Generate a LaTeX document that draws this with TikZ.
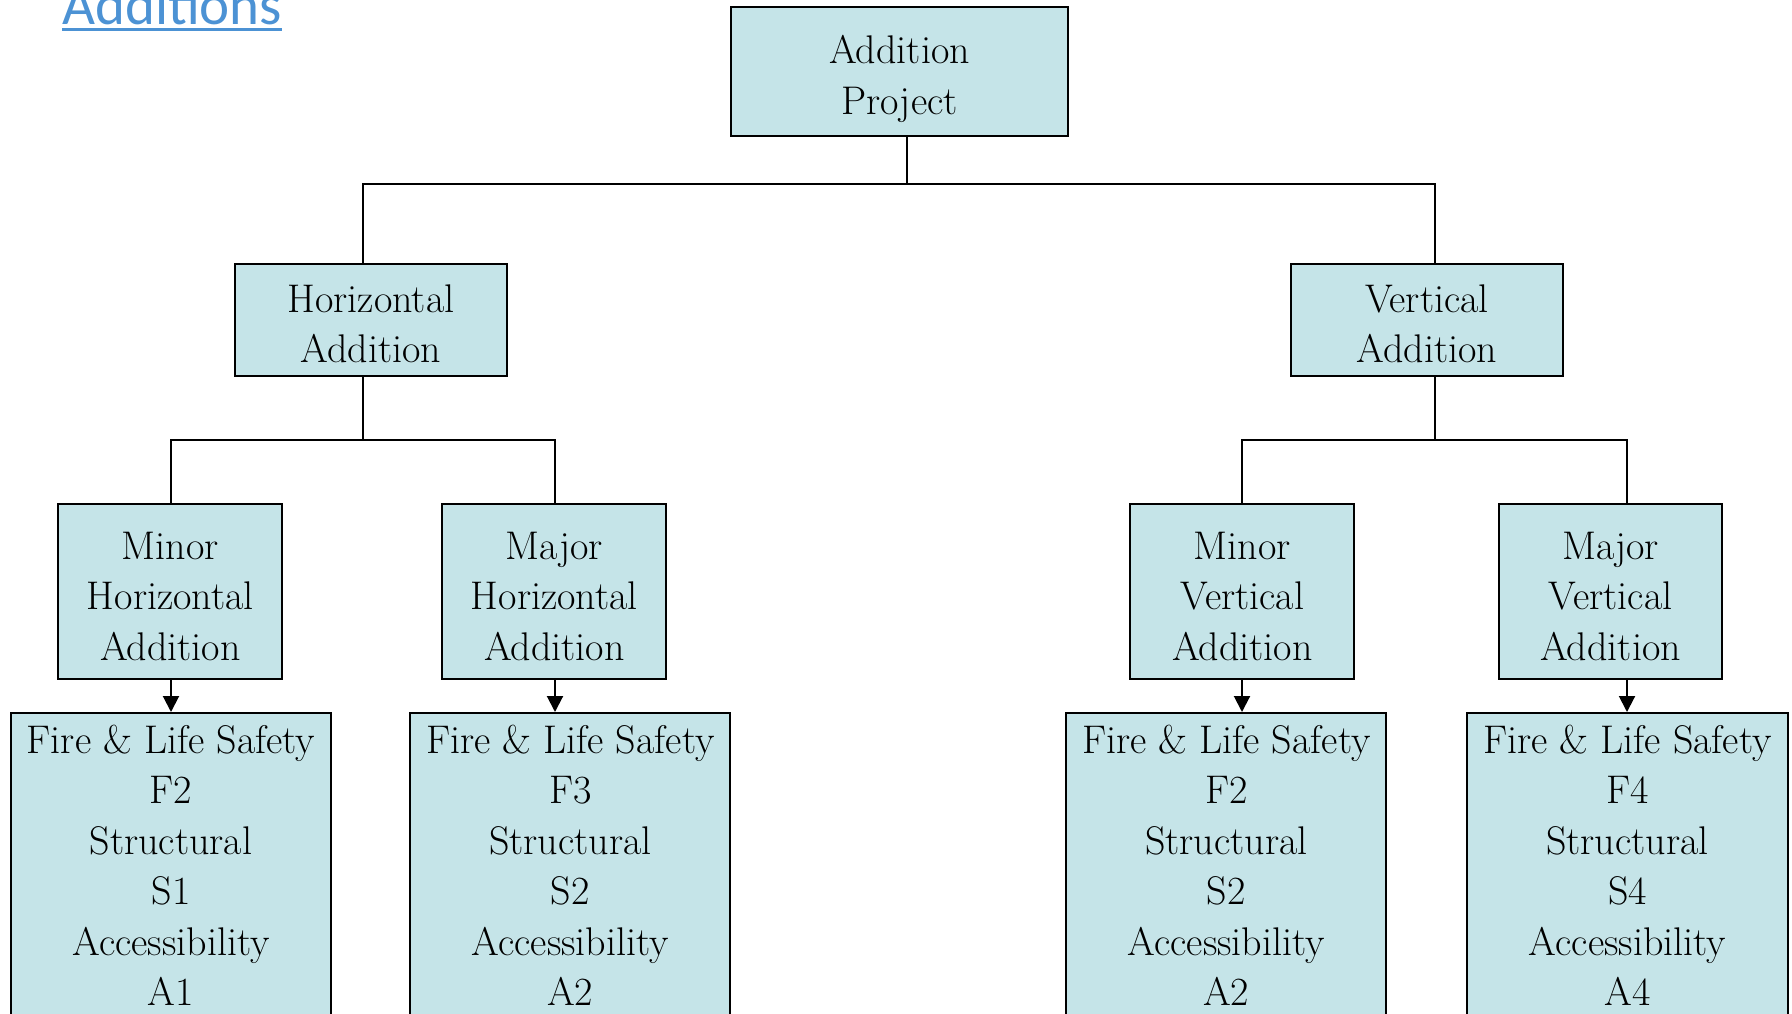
\documentclass[tikz,border=0pt]{standalone}
\usepackage{fontspec}
\usetikzlibrary{arrows.meta}
\newfontfamily\linkfont{Carlito}
\definecolor{boxfill}{RGB}{197,228,232}
\definecolor{linkblue}{RGB}{76,146,212}
\begin{document}
\begin{tikzpicture}[x=1pt,y=-1pt,
  box/.style={draw=black, line width=2pt, fill=boxfill, inner sep=0pt},
  lbl/.style={anchor=north, inner sep=0pt, align=center,
              font=\fontsize{40}{50.5}\selectfont},
  wire/.style={line width=2pt},
  arr/.style={wire, -{Triangle[width=16pt,length=16pt]}}]
\useasboundingbox (0,0) rectangle (1792,1013);

% heading link
\node[anchor=base west, inner sep=0pt, text=linkblue,
      font=\linkfont\fontsize{57}{60}\selectfont] (hdr) at (62,24) {Additions};
\draw[linkblue, line width=3pt] ([yshift=-5pt]hdr.base west) -- ([yshift=-5pt]hdr.base east);

% level 0
\node[box, minimum width=337pt, minimum height=129pt] (top) at (899.5,71.5) {};
\node[lbl] (topt) at (899.5,35.2) {Addition\\Project};

% level 1
\node[box, minimum width=272pt, minimum height=112pt] (hor) at (371,320) {};
\node[lbl] (hort) at (371,284.2) {Horizontal\\Addition};
\node[box, minimum width=272pt, minimum height=112pt] (ver) at (1427,320) {};
\node[lbl] (vert) at (1427,284.2) {Vertical\\Addition};

% level 2
\node[box, minimum width=224pt, minimum height=175pt] (mh1) at (170.3,591.5) {};
\node[lbl] (mh1t) at (170.3,531.7) {Minor\\Horizontal\\Addition};
\node[box, minimum width=224pt, minimum height=175pt] (mh2) at (554.3,591.5) {};
\node[lbl] (mh2t) at (554.3,531.7) {Major\\Horizontal\\Addition};
\node[box, minimum width=224pt, minimum height=175pt] (mv1) at (1242.3,591.5) {};
\node[lbl] (mv1t) at (1242.3,531.7) {Minor\\Vertical\\Addition};
\node[box, minimum width=223pt, minimum height=175pt] (mv2) at (1610.5,591.5) {};
\node[lbl] (mv2t) at (1610.5,531.7) {Major\\Vertical\\Addition};

% level 3: requirement categories
\node[box, anchor=north, minimum width=320pt, minimum height=400pt] (b1) at (171,712) {};
\node[lbl] (b1t) at (171,724.4) {Fire \& Life Safety\\F2\\Structural\\S1\\Accessibility\\A1};
\node[box, anchor=north, minimum width=320pt, minimum height=400pt] (b2) at (570.3,712) {};
\node[lbl] (b2t) at (570.3,724.4) {Fire \& Life Safety\\F3\\Structural\\S2\\Accessibility\\A2};
\node[box, anchor=north, minimum width=320pt, minimum height=400pt] (b3) at (1226.3,712) {};
\node[lbl] (b3t) at (1226.3,724.4) {Fire \& Life Safety\\F2\\Structural\\S2\\Accessibility\\A2};
\node[box, anchor=north, minimum width=321pt, minimum height=400pt] (b4) at (1627.5,712) {};
\node[lbl] (b4t) at (1627.5,724.4) {Fire \& Life Safety\\F4\\Structural\\S4\\Accessibility\\A4};

% connectors
\coordinate (bus0) at (907,184);
\coordinate (busH) at (363,440);
\coordinate (busV) at (1435,440);
\draw[wire] ([xshift=7.5pt]top.south) -- (bus0);
\draw[wire] ([xshift=-8pt]hor.north) |- (bus0) -| ([xshift=8pt]ver.north);
\draw[wire] ([xshift=-8pt]hor.south) -- (busH);
\draw[wire] ([xshift=0.7pt]mh1.north) |- (busH) -| ([xshift=0.7pt]mh2.north);
\draw[wire] ([xshift=8pt]ver.south) -- (busV);
\draw[wire] ([xshift=-0.3pt]mv1.north) |- (busV) -| ([xshift=16.5pt]mv2.north);

\draw[arr] ([xshift=0.7pt]mh1.south) -- ([xshift=0.7pt]mh1.south |- b1.north);
\draw[arr] ([xshift=0.7pt]mh2.south) -- ([xshift=0.7pt]mh2.south |- b2.north);
\draw[arr] ([xshift=-0.3pt]mv1.south) -- ([xshift=-0.3pt]mv1.south |- b3.north);
\draw[arr] ([xshift=16.5pt]mv2.south) -- ([xshift=16.5pt]mv2.south |- b4.north);
\end{tikzpicture}
\end{document}
